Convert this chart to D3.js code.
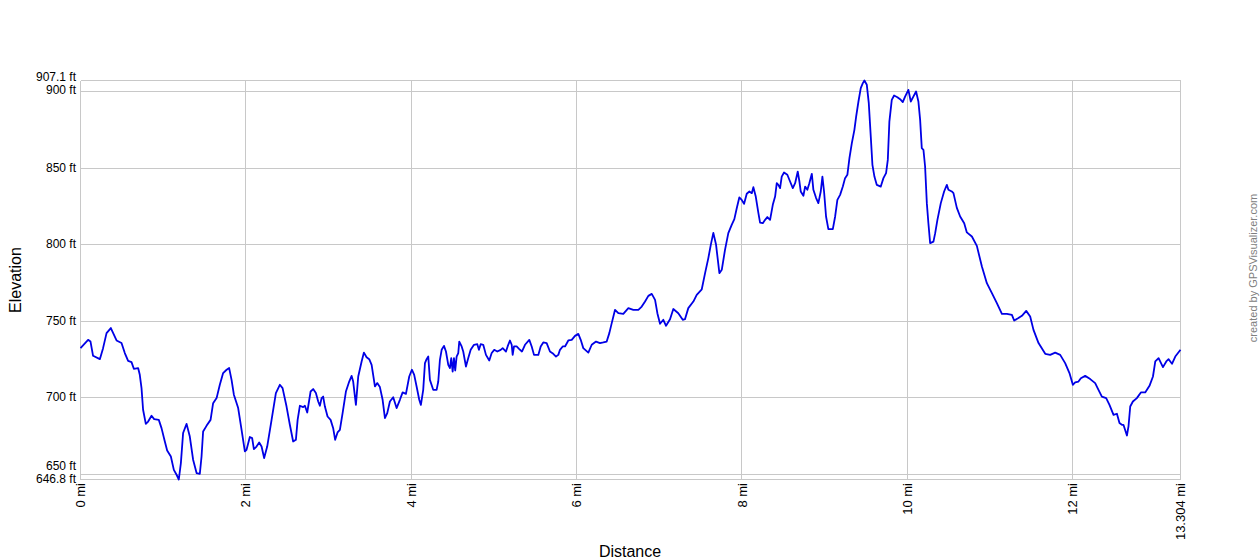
<!DOCTYPE html>
<html>
<head>
<meta charset="utf-8">
<script src="https://cdn.jsdelivr.net/npm/d3@7"></script>
<style>
	body { margin: 0; background: #fff; }
	text { font-family: Arial, "Liberation Sans", sans-serif; }
</style>
</head>
<body>
<div id="container"></div>
<script>
// distance along the track (mi)
var distanceMi = [0, 0.092, 0.121, 0.152, 0.234, 0.273, 0.315, 0.367, 0.436, 0.496, 0.536, 0.576, 0.617, 0.645, 0.697, 0.717, 0.738, 0.757, 0.790, 0.818, 0.859, 0.891, 0.947, 0.980, 1.020, 1.048, 1.093, 1.129, 1.162, 1.189, 1.214, 1.241, 1.283, 1.322, 1.362, 1.404, 1.443, 1.464, 1.483, 1.524, 1.573, 1.604, 1.646, 1.685, 1.725, 1.767, 1.798, 1.827, 1.855, 1.907, 1.948, 1.988, 2.008, 2.048, 2.076, 2.097, 2.129, 2.161, 2.190, 2.221, 2.258, 2.311, 2.363, 2.411, 2.444, 2.492, 2.532, 2.572, 2.605, 2.626, 2.653, 2.693, 2.714, 2.742, 2.783, 2.814, 2.847, 2.875, 2.895, 2.916, 2.935, 2.956, 2.988, 3.025, 3.056, 3.080, 3.109, 3.137, 3.170, 3.210, 3.250, 3.279, 3.298, 3.331, 3.359, 3.400, 3.428, 3.460, 3.492, 3.521, 3.561, 3.589, 3.621, 3.654, 3.682, 3.710, 3.742, 3.782, 3.823, 3.863, 3.896, 3.936, 3.976, 4.008, 4.036, 4.065, 4.097, 4.117, 4.145, 4.166, 4.186, 4.206, 4.226, 4.266, 4.307, 4.327, 4.347, 4.368, 4.396, 4.420, 4.448, 4.468, 4.484, 4.501, 4.517, 4.532, 4.549, 4.569, 4.581, 4.610, 4.629, 4.662, 4.690, 4.719, 4.759, 4.799, 4.819, 4.840, 4.871, 4.904, 4.944, 4.973, 5.004, 5.041, 5.082, 5.106, 5.146, 5.166, 5.194, 5.215, 5.227, 5.243, 5.275, 5.307, 5.339, 5.376, 5.428, 5.457, 5.485, 5.537, 5.566, 5.597, 5.638, 5.678, 5.718, 5.751, 5.779, 5.799, 5.832, 5.860, 5.900, 5.941, 5.981, 6.021, 6.050, 6.081, 6.142, 6.183, 6.235, 6.283, 6.323, 6.364, 6.396, 6.425, 6.465, 6.505, 6.565, 6.626, 6.686, 6.747, 6.788, 6.828, 6.868, 6.909, 6.949, 6.977, 7.009, 7.049, 7.082, 7.130, 7.170, 7.230, 7.284, 7.311, 7.351, 7.412, 7.453, 7.514, 7.554, 7.594, 7.623, 7.654, 7.687, 7.727, 7.756, 7.795, 7.835, 7.876, 7.908, 7.937, 7.968, 7.997, 8.025, 8.058, 8.090, 8.119, 8.138, 8.167, 8.199, 8.219, 8.252, 8.280, 8.307, 8.340, 8.373, 8.401, 8.421, 8.440, 8.461, 8.481, 8.509, 8.549, 8.582, 8.615, 8.643, 8.675, 8.695, 8.711, 8.743, 8.764, 8.791, 8.815, 8.845, 8.864, 8.897, 8.924, 8.953, 8.973, 8.993, 9.017, 9.045, 9.099, 9.127, 9.154, 9.187, 9.220, 9.247, 9.275, 9.300, 9.329, 9.360, 9.381, 9.409, 9.437, 9.462, 9.481, 9.510, 9.534, 9.558, 9.578, 9.602, 9.631, 9.679, 9.711, 9.743, 9.764, 9.783, 9.812, 9.840, 9.880, 9.913, 9.945, 9.973, 10.013, 10.042, 10.073, 10.106, 10.134, 10.155, 10.175, 10.195, 10.215, 10.236, 10.255, 10.276, 10.316, 10.337, 10.364, 10.405, 10.445, 10.478, 10.497, 10.538, 10.558, 10.599, 10.639, 10.688, 10.720, 10.781, 10.841, 10.902, 10.962, 11.023, 11.083, 11.144, 11.204, 11.265, 11.292, 11.344, 11.386, 11.438, 11.486, 11.526, 11.587, 11.668, 11.728, 11.788, 11.849, 11.909, 11.961, 12.002, 12.030, 12.070, 12.099, 12.151, 12.212, 12.272, 12.312, 12.353, 12.405, 12.445, 12.494, 12.535, 12.566, 12.595, 12.614, 12.656, 12.675, 12.696, 12.728, 12.776, 12.825, 12.877, 12.929, 12.971, 12.999, 13.039, 13.092, 13.132, 13.160, 13.201, 13.241, 13.304];

// elevation at each point (ft)
var elevationFt = [732.5, 737.9, 736.8, 727.5, 725.3, 732.5, 742.3, 745.6, 737.5, 735.8, 729.3, 724.2, 723.4, 719.0, 719.5, 715.1, 706.4, 692.3, 683.1, 684.6, 688.4, 686.2, 685.7, 680.3, 671.6, 665.7, 661.8, 653.1, 649.9, 646.8, 657.5, 677.1, 683.1, 674.8, 659.7, 651.0, 650.5, 661.8, 678.1, 681.8, 685.7, 696.6, 699.9, 708.6, 716.2, 718.4, 719.5, 711.8, 702.1, 693.4, 679.2, 665.1, 666.2, 674.5, 673.8, 666.6, 668.3, 670.9, 668.3, 660.8, 668.3, 685.7, 703.2, 708.6, 706.4, 694.4, 682.5, 671.6, 672.7, 685.7, 694.9, 694.0, 694.9, 690.5, 704.2, 705.8, 703.2, 697.7, 694.9, 699.9, 700.9, 694.4, 687.9, 685.7, 680.3, 672.7, 677.5, 679.2, 690.1, 704.2, 710.7, 714.4, 710.7, 695.5, 714.0, 723.8, 729.6, 726.6, 725.3, 721.6, 707.5, 709.7, 707.1, 698.8, 686.9, 690.1, 697.7, 700.5, 693.4, 698.8, 703.6, 702.7, 714.0, 718.4, 715.1, 707.5, 698.8, 695.5, 705.3, 722.7, 725.3, 727.0, 711.8, 705.3, 705.3, 710.7, 724.9, 731.4, 734.0, 730.3, 721.6, 719.5, 726.0, 717.2, 726.0, 717.9, 727.0, 729.3, 736.8, 733.6, 730.3, 720.5, 726.0, 731.4, 734.7, 735.1, 731.4, 735.1, 734.7, 728.1, 724.4, 729.3, 731.4, 730.3, 731.4, 732.5, 730.3, 733.6, 737.5, 734.7, 728.1, 733.6, 733.6, 731.9, 730.3, 734.7, 737.9, 733.6, 728.1, 728.1, 733.6, 736.2, 735.8, 730.3, 728.8, 727.0, 728.1, 731.4, 733.6, 733.6, 737.5, 737.9, 740.5, 741.8, 737.9, 732.5, 729.6, 734.7, 736.8, 735.8, 736.2, 736.8, 742.3, 748.8, 757.5, 755.3, 754.9, 758.6, 757.5, 757.5, 759.6, 762.9, 766.6, 767.9, 764.0, 755.3, 748.4, 751.0, 747.1, 751.4, 758.0, 755.3, 751.0, 751.4, 758.6, 762.9, 767.3, 770.9, 781.4, 791.4, 799.9, 807.7, 799.9, 781.4, 783.6, 796.6, 807.5, 812.9, 816.7, 823.8, 830.8, 829.2, 826.6, 833.2, 834.7, 833.6, 837.5, 831.4, 820.6, 814.4, 814.0, 816.2, 818.0, 816.2, 826.0, 831.4, 840.1, 839.0, 836.9, 844.4, 847.1, 845.6, 841.2, 836.9, 840.1, 847.7, 841.2, 834.7, 831.9, 837.9, 835.8, 840.1, 846.2, 835.8, 830.4, 827.1, 834.7, 844.4, 834.7, 818.4, 810.1, 810.1, 818.4, 829.2, 832.5, 837.9, 843.4, 845.6, 856.4, 866.2, 874.9, 883.6, 893.4, 902.1, 905.4, 907.1, 904.3, 892.3, 870.5, 852.1, 844.4, 839.0, 837.9, 843.4, 846.7, 855.3, 880.3, 894.5, 897.3, 896.2, 894.9, 893.0, 896.6, 901.0, 893.4, 896.6, 899.9, 893.4, 881.4, 863.0, 861.9, 851.0, 827.1, 814.0, 801.0, 802.0, 807.5, 816.2, 827.1, 834.7, 839.0, 835.8, 834.7, 833.6, 824.0, 818.4, 814.0, 808.0, 805.3, 799.2, 785.7, 774.9, 768.4, 761.9, 754.9, 754.9, 754.2, 750.5, 752.1, 753.6, 756.8, 753.1, 744.4, 735.8, 728.8, 728.1, 729.6, 728.1, 722.7, 716.2, 708.6, 710.1, 710.7, 712.9, 714.4, 712.3, 709.7, 705.3, 700.9, 699.9, 695.5, 689.0, 689.7, 683.6, 682.5, 682.5, 675.5, 681.4, 694.4, 697.7, 699.9, 703.6, 703.6, 707.9, 714.0, 723.8, 726.0, 720.1, 723.8, 725.3, 722.3, 727.0, 731.4];

var xTicks = [0, 2, 4, 6, 8, 10, 12, 13.304];
var xTickLabels = ['0 mi', '2 mi', '4 mi', '6 mi', '8 mi', '10 mi', '12 mi', '13.304 mi'];
var yTicks = [646.8, 650, 700, 750, 800, 850, 900, 907.1];
var yTickLabels = ['646.8 ft', '650 ft', '700 ft', '750 ft', '800 ft', '850 ft', '900 ft', '907.1 ft'];

var width = 1260;
var height = 560;

var x = d3.scaleLinear()
	.domain([0, 13.304])
	.range([80.5, 1180.5]);

var y = d3.scaleLinear()
	.domain([646.8, 907.1])
	.range([479.5, 80.5]);

var svg = d3.select('#container')
	.append('svg')
	.attr('width', width)
	.attr('height', height);

var snap = (v) => Math.round(v - 0.5) + 0.5;

// grid
svg.append('g')
	.selectAll('line')
	.data(yTicks)
	.enter()
	.append('line')
	.attr('x1', x(0))
	.attr('x2', x(13.304))
	.attr('y1', (d) => snap(y(d)))
	.attr('y2', (d) => snap(y(d)))
	.attr('stroke', '#c8c8c8')
	.attr('shape-rendering', 'crispEdges');

svg.append('g')
	.selectAll('line')
	.data(xTicks)
	.enter()
	.append('line')
	.attr('x1', (d) => snap(x(d)))
	.attr('x2', (d) => snap(x(d)))
	.attr('y1', y(907.1))
	.attr('y2', y(646.8))
	.attr('stroke', '#c8c8c8')
	.attr('shape-rendering', 'crispEdges');

// y labels; the end values sit close to 650 / 900, so those pairs are pushed apart
var yDy = {646.8: 3.5, 650: -5, 900: 3, 907.1: 0};
svg.append('g')
	.selectAll('text')
	.data(yTicks)
	.enter()
	.append('text')
	.attr('x', 76)
	.attr('y', (d) => y(d) + (d in yDy ? yDy[d] : 3.5))
	.attr('text-anchor', 'end')
	.attr('font-size', 12)
	.attr('fill', '#000')
	.text((d, i) => yTickLabels[i]);

// x labels, rotated
svg.append('g')
	.selectAll('text')
	.data(xTicks)
	.enter()
	.append('text')
	.attr('transform', (d) => 'translate(' + x(d) + ',483) rotate(-90)')
	.attr('dy', '0.35em')
	.attr('text-anchor', 'end')
	.attr('font-size', 13)
	.attr('fill', '#000')
	.text((d, i) => xTickLabels[i]);

// profile
var line = d3.line()
	.x((d) => x(d[0]))
	.y((d) => y(d[1]));

svg.append('path')
	.datum(d3.zip(distanceMi, elevationFt))
	.attr('d', line)
	.attr('fill', 'none')
	.attr('stroke', '#0000e6')
	.attr('stroke-width', 1.8)
	.attr('stroke-linejoin', 'round');

// titles
svg.append('text')
	.attr('transform', 'translate(21,280) rotate(-90)')
	.attr('text-anchor', 'middle')
	.attr('font-size', 16)
	.text('Elevation');

svg.append('text')
	.attr('x', 630)
	.attr('y', 557)
	.attr('text-anchor', 'middle')
	.attr('font-size', 16)
	.text('Distance');

svg.append('text')
	.attr('transform', 'translate(1257,268) rotate(-90)')
	.attr('text-anchor', 'middle')
	.attr('font-size', 11)
	.attr('fill', '#808080')
	.text('created by GPSVisualizer.com');
</script>
</body>
</html>
